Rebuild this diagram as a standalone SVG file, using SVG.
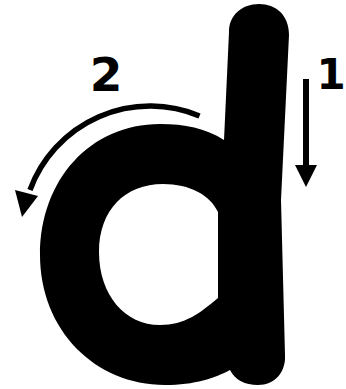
<svg xmlns="http://www.w3.org/2000/svg" width="346" height="389" viewBox="0 0 346 389">
  <style>
    .letter { fill: #000; fill-rule: evenodd; }
    .stroke { fill: none; stroke: #000; stroke-width: 5.5; }
    .head { fill: #000; }
    .num { font-family: "DejaVu Sans", sans-serif; font-weight: bold; font-size: 47px; fill: #000; text-anchor: middle; }
  </style>
  <rect width="346" height="389" fill="#fff"/>
  <g id="letter-d">
    <path class="letter" d="M 224 140 C 205 128, 185 124, 160 124 C 90 124, 40 180, 40 255 C 40 330, 95 385, 165 385 C 195 385, 215 378, 230 370 C 235 380, 245 385, 258 385 C 275 385, 286 372, 285 355 L 281 200 L 289 35 C 289 15, 276 4, 259 4 C 242 4, 229 15, 229 32 Z
      M 218 212 C 210 195, 190 184, 163 184 C 125 184, 99 210, 99 252 C 99 295, 125 325, 160 325 C 185 325, 200 313, 218 298 Z"/>
  </g>
  <g id="connectors">
    <g id="arrow-1">
      <line class="stroke" x1="306" y1="79" x2="306" y2="168" style="stroke-width:6"/>
      <polygon class="head" points="295,165 317,165 306,187"/>
    </g>
    <g id="arrow-2">
      <path class="stroke" d="M 199.5 116 A 128 128 0 0 0 30 190"/>
      <polygon class="head" points="15,190 38,196 22,217"/>
    </g>
  </g>
  <g id="label-1"><text class="num" x="331" y="89" style="font-size:42px">1</text></g>
  <g id="label-2"><text class="num" x="106" y="91">2</text></g>
</svg>
